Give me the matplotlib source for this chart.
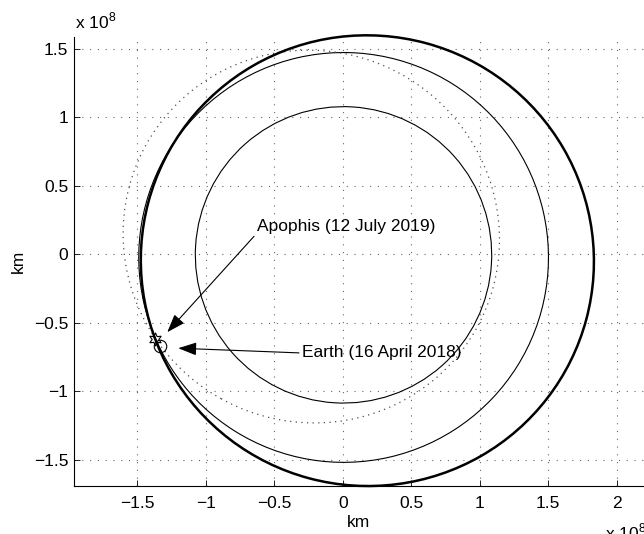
import numpy as np
import matplotlib
matplotlib.use("Agg")
import matplotlib.pyplot as plt
from matplotlib.patches import Ellipse

plt.rcParams['font.family'] = ['Liberation Sans', 'DejaVu Sans']
plt.rcParams['mathtext.fontset'] = 'custom'
plt.rcParams['mathtext.rm'] = 'Liberation Sans'
plt.rcParams['font.size'] = 12.5

# heliocentric orbits, distances in units of 1e8 km
orbit_names = ['Venus', 'Earth', 'Apophis', 'transfer']
semi_major = [1.082, 1.496, 1.380, 1.655]
eccentricity = [0.0068, 0.0167, 0.191, 0.112]
perihelion_deg = [131.5, 102.9, 330.9, 165.0]
orbit_lw = [0.8, 0.8, 0.9, 1.8]
orbit_ls = ['-', '-', (0, (1, 3.5)), '-']
orbit_col = ['k', 'k', '0.3', 'k']

# body positions (1e8 km)
earth_pos = (-1.337, -0.673)
apophis_pos = (-1.370, -0.622)

xticks = [-1.5, -1, -0.5, 0, 0.5, 1, 1.5, 2]
yticks = [-1.5, -1, -0.5, 0, 0.5, 1, 1.5]

fig = plt.figure(figsize=(6.44, 5.34), dpi=100)
ax = fig.add_axes([74 / 644, 48 / 534, 570 / 644, 449 / 534])

for a, e, w, lw, ls, c in zip(semi_major, eccentricity, perihelion_deg,
                              orbit_lw, orbit_ls, orbit_col):
    # the Sun sits at one focus, so the centre is shifted away from perihelion
    wr = np.radians(w)
    centre = (-a * e * np.cos(wr), -a * e * np.sin(wr))
    b = a * np.sqrt(1 - e ** 2)
    ax.add_patch(Ellipse(centre, 2 * a, 2 * b, angle=w, fill=False,
                         edgecolor=c, linewidth=lw, linestyle=ls, zorder=3,
                         clip_on=False))

ax.plot(*earth_pos, marker='o', ms=9, mfc='none', mec='k', mew=0.8, zorder=4)
ax.plot(*apophis_pos, marker=(6, 1, 0), ms=9.5, mfc='none', mec='k', mew=0.8,
        zorder=4)

arrow = dict(arrowstyle='-|>,head_length=0.9,head_width=0.32', color='k',
             lw=0.8, shrinkA=0, shrinkB=0)
ax.annotate('Apophis (12 July 2019)', xy=(-1.282, -0.57), xytext=(-0.63, 0.205),
            ha='left', va='center', zorder=5,
            arrowprops=dict(arrow, relpos=(0, 0)))
ax.annotate('Earth (16 April 2018)', xy=(-1.202, -0.687), xytext=(-0.30, -0.722),
            ha='left', va='center', zorder=5,
            arrowprops=dict(arrow, relpos=(0, 0.5)))

ax.set_xlim(-1.963, 2.199)
ax.set_ylim(-1.693, 1.585)
ax.set_xticks(xticks)
ax.set_yticks(yticks)
ax.set_xticklabels([f'{t:g}'.replace('-', '\u2212') for t in xticks])
ax.set_yticklabels([f'{t:g}'.replace('-', '\u2212') for t in yticks])
ax.tick_params(direction='in', length=4, width=0.6, top=False, right=False)
ax.tick_params(axis='x', pad=7)
ax.tick_params(axis='y', pad=4)
ax.grid(True, linestyle=(0, (1, 6)), color='0.4', linewidth=0.8)
ax.set_axisbelow(True)
for s in ['top', 'right']:
    ax.spines[s].set_visible(False)
for s in ['left', 'bottom']:
    ax.spines[s].set_linewidth(0.8)

ax.set_xlabel('km', labelpad=3)
ax.set_ylabel('km', labelpad=6)

fig.text(75 / 644, 1 - 28 / 534, r'x 10$^{8}$', ha='left', va='baseline')
fig.text(605 / 644, 1 - 539 / 534, r'x 10$^{8}$', ha='left', va='baseline')

fig.savefig('out.png', dpi=100)
